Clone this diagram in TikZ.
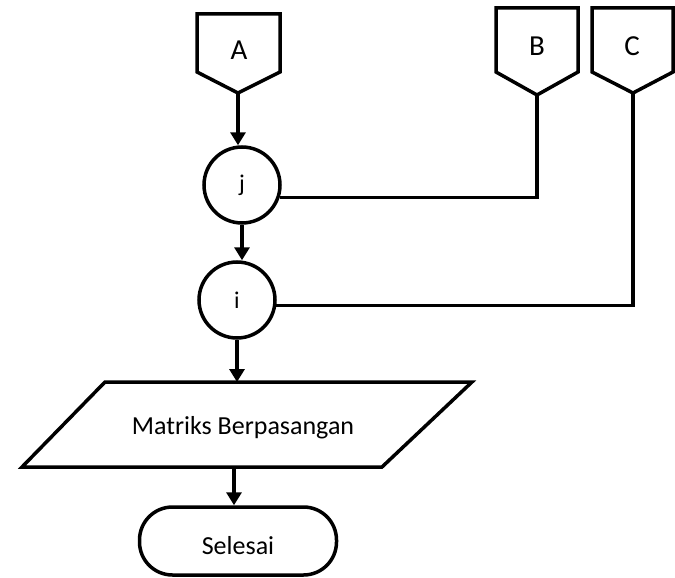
\documentclass[tikz,border=0pt]{standalone}
\usepackage{fontspec}
\setmainfont{Carlito}
\usetikzlibrary{arrows.meta}
\begin{document}
\begin{tikzpicture}[x=1pt,y=-1pt,
  shp/.style={line width=3.5pt, line join=miter},
  lbl/.style={font=\fontsize{29}{34}\selectfont, inner sep=0pt},
  txt/.style={font=\fontsize{26}{30}\selectfont, inner sep=0pt},
  circ/.style={shp, draw, circle, minimum size=76pt, inner sep=0pt, font=\fontsize{24}{28}\selectfont},
  conn/.style={line width=3.5pt},
  arr/.style={line width=3.5pt, -{Triangle[length=13pt,width=15pt]}}]
\useasboundingbox (0,0) rectangle (675,578);
% off-page connectors
\draw[shp] (197,14) -- (280,14) -- (280,72) -- (238,93) -- (197,72) -- cycle;
\node[lbl] (A) at (239,50) {A};
\coordinate (Atip) at (238,93);
\draw[shp] (496,8) -- (578,8) -- (578,72) -- (537,95) -- (496,72) -- cycle;
\node[lbl] (B) at (537,46) {B};
\coordinate (Btip) at (537,95);
\draw[shp] (592,8) -- (673,8) -- (673,72) -- (633,93) -- (592,72) -- cycle;
\node[lbl] (C) at (632,46) {C};
\coordinate (Ctip) at (633,93);
% circles
\node[circ] (j) at (242,185) {j};
\node[circ] (i) at (237,300) {i};
% parallelogram
\draw[shp] (105,382) -- (472,382) -- (382,467) -- (22,467) -- cycle;
\node[txt] (m) at (243,428) {Matriks Berpasangan};
\coordinate (mtop) at (237,382);
\coordinate (mbot) at (234,467);
% terminal
\node[shp, draw, minimum width=197pt, minimum height=68pt, rounded corners=33pt,
      font=\fontsize{26}{30}\selectfont, inner sep=0pt] (end) at (238,541) {};
\node[txt] (endtxt) at (238,546) {Selesai};
% connectors
\draw[arr] (Atip) -- (Atip |- j.north);
\draw[arr] (j.south) -- (j.south |- i.north);
\draw[conn] (j.-18) -| (Btip);
\draw[conn] (i.-8) -| (Ctip);
\draw[arr] (i.south) -- (mtop);
\draw[arr] (mbot) -- (mbot |- end.north);
\end{tikzpicture}
\end{document}
